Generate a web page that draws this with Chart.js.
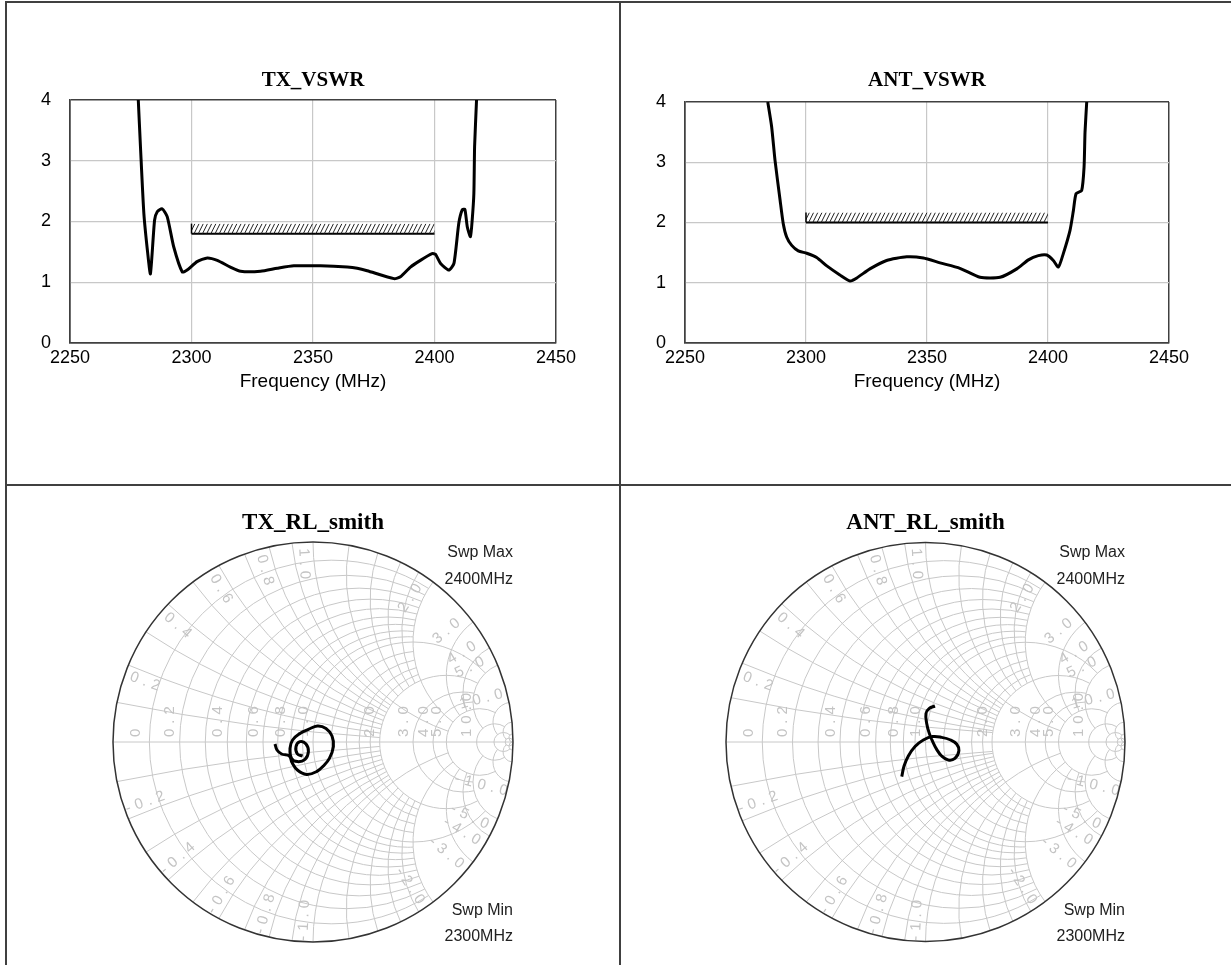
<!DOCTYPE html>
<html>
<head>
<meta charset="utf-8">
<title>VSWR and Smith charts</title>
<script src="https://cdn.jsdelivr.net/npm/chart.js@4.4.1/dist/chart.umd.min.js"></script>
<style>
  html, body { margin: 0; padding: 0; background: #fff; }
  body { width: 1231px; height: 965px; position: relative; overflow: hidden; }
  .pane { position: absolute; }
  .rule { position: absolute; background: #404040; }
</style>
</head>
<body>
<div class="rule" style="left:5px;top:1px;width:1226px;height:2px"></div>
<div class="rule" style="left:5px;top:1px;width:2px;height:964px"></div>
<div class="rule" style="left:619px;top:1px;width:2px;height:964px"></div>
<div class="rule" style="left:5px;top:484px;width:1226px;height:2px"></div>

<div class="pane" style="left:0;top:0;width:620px;height:485px"><canvas id="txVswr"></canvas></div>
<div class="pane" style="left:620px;top:0;width:611px;height:485px"><canvas id="antVswr"></canvas></div>
<div class="pane" style="left:0;top:485px;width:620px;height:480px"><canvas id="txSmith"></canvas></div>
<div class="pane" style="left:620px;top:485px;width:611px;height:480px"><canvas id="antSmith"></canvas></div>

<script>
// ---- data ----
var txFreq = [2278.1, 2279.0, 2280.4, 2282.0, 2283.1, 2284.8, 2285.9, 2287.9, 2290.0, 2292.7,
              2296.2, 2298.2, 2302.3, 2306.5, 2310.6, 2316.0, 2320.2, 2328.4, 2335.3, 2342.1,
              2353.1, 2364.1, 2368.2, 2372.3, 2383.3, 2386.0, 2390.1, 2394.2, 2399.0, 2400.4,
              2402.5, 2405.9, 2408.0, 2410.0, 2411.4, 2412.5, 2413.5, 2414.8, 2415.5, 2416.2,
              2416.5, 2417.3];
var txVswr = [4.0, 3.23, 2.13, 1.47, 1.14, 2.02, 2.16, 2.21, 2.08, 1.58,
              1.17, 1.20, 1.34, 1.40, 1.36, 1.25, 1.18, 1.18, 1.23, 1.27,
              1.27, 1.25, 1.23, 1.19, 1.06, 1.09, 1.25, 1.36, 1.47, 1.46,
              1.31, 1.20, 1.31, 1.97, 2.19, 2.20, 1.91, 1.75, 2.02, 2.46,
              3.23, 4.0];

var antFreq = [2284.2, 2285.8, 2287.2, 2289.3, 2290.6, 2292.0, 2294.1, 2296.8, 2300.3, 2304.4,
               2308.6, 2314.0, 2318.2, 2321.0, 2326.4, 2333.3, 2341.6, 2348.5, 2355.4, 2363.6,
               2371.9, 2380.2, 2387.1, 2391.9, 2396.0, 2399.5, 2402.2, 2404.3, 2406.3, 2409.1,
               2410.5, 2411.6, 2413.9, 2414.9, 2415.3, 2416.0];
var antVswr = [4.0, 3.59, 3.03, 2.37, 1.98, 1.76, 1.62, 1.53, 1.49, 1.42,
               1.28, 1.13, 1.03, 1.08, 1.23, 1.37, 1.43, 1.41, 1.33, 1.24,
               1.09, 1.09, 1.23, 1.38, 1.45, 1.46, 1.37, 1.26, 1.48, 1.87,
               2.20, 2.48, 2.53, 2.92, 3.50, 4.0];

var limitFreq = [2300, 2400];
var txLimit = [1.8, 1.8];
var antLimit = [2.0, 2.0];

// reflection coefficient traces (real, imaginary)
var txGammaRe = [-0.19, -0.18, -0.157, -0.118, -0.105, -0.078, -0.032, 0.018, 0.052, 0.082,
                 0.102, 0.095, 0.065, 0.022, -0.023, -0.065, -0.102, -0.115, -0.107, -0.078,
                 -0.04, -0.023, -0.035, -0.065, -0.085, -0.078, -0.052];
var txGammaIm = [-0.01, -0.04, -0.06, -0.07, -0.103, -0.14, -0.162, -0.148, -0.12, -0.082,
                 -0.023, 0.03, 0.068, 0.08, 0.063, 0.043, 0.01, -0.032, -0.082, -0.098,
                 -0.087, -0.048, -0.01, 0.002, -0.023, -0.06, -0.07];
var antGammaRe = [0.0475, 0.019, 0.0025, 0.006, 0.019, 0.036, 0.056, 0.081, 0.114, 0.1475,
                  0.1675, 0.156, 0.126, 0.081, 0.036, -0.011, -0.0525, -0.086, -0.1075, -0.119];
var antGammaIm = [0.18, 0.168, 0.143, 0.093, 0.043, 0.002, -0.037, -0.07, -0.09, -0.082,
                  -0.043, -0.01, 0.01, 0.023, 0.027, 0.01, -0.023, -0.07, -0.12, -0.173];

// smith grid: circle values and how far each is drawn
var smithR      = [0.1, 0.2, 0.3, 0.4, 0.5, 0.6, 0.7, 0.8, 0.9, 1.0, 1.2, 1.4, 1.6, 1.8, 2.0, 3.0, 4.0, 5.0, 10, 20, 50];
var smithRLimit = [2, 2, 2, 2, 2, 2, 2, 2, 2, 5, 2, 2, 2, 2, 5, 5, 5, 10, 20, 50, Infinity];
var smithX      = [0.1, 0.2, 0.3, 0.4, 0.5, 0.6, 0.7, 0.8, 0.9, 1.0, 1.2, 1.4, 1.6, 1.8, 2.0, 3.0, 4.0, 5.0, 10, 20, 50];
var smithXLimit = [2, 2, 2, 2, 2, 2, 2, 2, 2, 5, 2, 2, 2, 2, 5, 5, 5, 10, 20, 50, Infinity];
var smithAxisLabels = ['0', '0.2', '0.4', '0.6', '0.8', '1.0', '2.0', '3.0', '4.0', '5.0', '10.0'];
var smithEdgeLabels = ['0.2', '0.4', '0.6', '0.8', '1.0', '2.0', '3.0', '4.0', '5.0', '10.0'];
var sweepText = ['Swp Max', '2400MHz', 'Swp Min', '2300MHz'];

function points(xs, ys) {
    return xs.map(function (x, i) { return { x: x, y: ys[i] }; });
}

// hatched band above a limit line
var hatchPlugin = {
    id: 'hatch',
    afterDatasetsDraw: function (chart) {
        var ctx = chart.ctx;
        chart.data.datasets.forEach(function (ds, i) {
            if (!ds.hatch) return;
            var pts = chart.getDatasetMeta(i).data;
            var x0 = pts[0].x, x1 = pts[pts.length - 1].x, y = pts[0].y, h = 10;
            ctx.save();
            ctx.beginPath();
            ctx.rect(x0, y - h, x1 - x0, h);
            ctx.clip();
            ctx.strokeStyle = '#222';
            ctx.lineWidth = 1;
            ctx.beginPath();
            for (var x = x0 - h; x < x1 + h; x += 4.2) {
                ctx.moveTo(x, y);
                ctx.lineTo(x + 5, y - h);
            }
            ctx.stroke();
            ctx.restore();
            ctx.save();
            ctx.strokeStyle = '#000';
            ctx.lineWidth = 1.5;
            ctx.beginPath();
            ctx.moveTo(x0, y);
            ctx.lineTo(x0, y - h);
            ctx.stroke();
            ctx.restore();
        });
    }
};

function makeVswr(id, title, freq, vswr, limit, yWidth, padRight, titlePad) {
    var edge = function (v, lo, hi) { return v === lo || v === hi; };
    var plain = function (v) { return String(v); };
    return new Chart(document.getElementById(id), {
        type: 'scatter',
        data: {
            datasets: [
                {
                    label: title,
                    data: points(freq, vswr),
                    showLine: true,
                    borderColor: '#000',
                    borderWidth: 3,
                    pointRadius: 0,
                    tension: 0.2
                },
                {
                    label: 'Limit',
                    data: points(limitFreq, limit),
                    showLine: true,
                    borderColor: '#000',
                    borderWidth: 2,
                    pointRadius: 0,
                    hatch: true
                }
            ]
        },
        options: {
            responsive: true,
            maintainAspectRatio: false,
            animation: false,
            layout: { padding: { left: 0, right: padRight, top: 0, bottom: 90 } },
            plugins: {
                legend: { display: false },
                tooltip: { enabled: false },
                title: {
                    display: true,
                    text: title,
                    fullSize: false,
                    color: '#000',
                    font: { family: "'Liberation Serif', serif", size: 21, weight: 'bold' },
                    padding: titlePad
                }
            },
            scales: {
                x: {
                    type: 'linear',
                    min: 2250,
                    max: 2450,
                    ticks: { stepSize: 50, padding: 4, color: '#000', callback: plain, font: { family: "'Liberation Sans', sans-serif", size: 18 } },
                    grid: {
                        drawTicks: false,
                        color: function (c) { return edge(c.tick && c.tick.value, 2250, 2450) ? '#404040' : '#c8c8c8'; },
                        lineWidth: function (c) { return edge(c.tick && c.tick.value, 2250, 2450) ? 1.5 : 1.2; }
                    },
                    border: { display: true, color: '#404040', width: 1.5 },
                    title: {
                        display: true,
                        text: 'Frequency (MHz)',
                        color: '#000',
                        font: { family: "'Liberation Sans', sans-serif", size: 19 },
                        padding: { top: 0, bottom: 1.6 }
                    },
                    afterFit: function (s) { s.height = 52; }
                },
                y: {
                    min: 0,
                    max: 4,
                    ticks: { stepSize: 1, padding: 19, color: '#000', callback: plain, font: { family: "'Liberation Sans', sans-serif", size: 18 } },
                    grid: {
                        drawTicks: false,
                        color: function (c) { return edge(c.tick && c.tick.value, 0, 4) ? '#404040' : '#c8c8c8'; },
                        lineWidth: function (c) { return edge(c.tick && c.tick.value, 0, 4) ? 1.5 : 1.2; }
                    },
                    border: { display: true, color: '#404040', width: 1.5 },
                    afterFit: function (s) { s.width = yWidth; }
                }
            }
        },
        plugins: [hatchPlugin]
    });
}

// z = r + jx  ->  gamma = (z - 1) / (z + 1)
function gamma(r, x) {
    var a = r - 1, c = r + 1, den = c * c + x * x;
    return [(a * c + x * x) / den, (x * c - a * x) / den];
}

function arcThrough(ctx, sx, sy, k, c, rho, p, q) {
    var cx = sx(c[0]), cy = sy(c[1]);
    var a0 = Math.atan2(sy(p[1]) - cy, sx(p[0]) - cx);
    var a1 = Math.atan2(sy(q[1]) - cy, sx(q[0]) - cx);
    var d = a1 - a0;
    while (d > Math.PI) d -= 2 * Math.PI;
    while (d < -Math.PI) d += 2 * Math.PI;
    ctx.beginPath();
    ctx.arc(cx, cy, rho * k, a0, a0 + d, d < 0);
    ctx.stroke();
}

var smithPlugin = {
    id: 'smithGrid',
    beforeDatasetsDraw: function (chart) {
        var ctx = chart.ctx, xs = chart.scales.x, ys = chart.scales.y;
        var sx = function (v) { return xs.getPixelForValue(v); };
        var sy = function (v) { return ys.getPixelForValue(v); };
        var k = sx(1) - sx(0);
        ctx.save();
        ctx.beginPath();
        ctx.arc(sx(0), sy(0), k, 0, 2 * Math.PI);
        ctx.clip();
        ctx.strokeStyle = '#c8c8c8';
        ctx.lineWidth = 1;
        smithR.forEach(function (r, i) {
            var lim = Math.min(smithRLimit[i], 1e6);
            var c = [r / (1 + r), 0], rho = 1 / (1 + r);
            arcThrough(ctx, sx, sy, k, c, rho, gamma(r, 0), gamma(r, lim));
            arcThrough(ctx, sx, sy, k, c, rho, gamma(r, 0), gamma(r, -lim));
        });
        smithX.forEach(function (x, i) {
            var lim = Math.min(smithXLimit[i], 1e6);
            [x, -x].forEach(function (v) {
                arcThrough(ctx, sx, sy, k, [1, 1 / v], 1 / x, gamma(0, v), gamma(lim, v));
            });
        });
        ctx.beginPath();
        ctx.moveTo(sx(-1), sy(0));
        ctx.lineTo(sx(1), sy(0));
        ctx.stroke();

        // grid labels
        ctx.fillStyle = '#c4c4c4';
        ctx.font = '15px "Liberation Sans", sans-serif';
        ctx.letterSpacing = '5px';
        smithAxisLabels.forEach(function (t) {
            var g = gamma(parseFloat(t), 0);
            var px = Math.max(sx(g[0]) - 2, sx(-1) + 30);
            ctx.save();
            ctx.translate(px, sy(0) - 5);
            ctx.rotate(-Math.PI / 2);
            ctx.textAlign = 'left';
            ctx.textBaseline = 'bottom';
            ctx.fillText(t, 0, 0);
            ctx.restore();
        });
        smithEdgeLabels.forEach(function (t) {
            var v = parseFloat(t);
            var th = Math.PI - 2 * Math.atan(v);
            [1, -1].forEach(function (s) {
                var a = s * (th + 0.05);
                var px = sx(0.88 * Math.cos(a)), py = sy(0.88 * Math.sin(a));
                var rot = -a;
                if (Math.cos(a) < 0) rot += Math.PI;
                ctx.save();
                ctx.translate(px, py);
                ctx.rotate(rot);
                ctx.textAlign = 'center';
                ctx.textBaseline = 'middle';
                ctx.fillText(s < 0 ? '-' + t : t, 0, 0);
                ctx.restore();
            });
        });
        ctx.restore();

        ctx.save();
        ctx.strokeStyle = '#333';
        ctx.lineWidth = 1.5;
        ctx.beginPath();
        ctx.arc(sx(0), sy(0), k, 0, 2 * Math.PI);
        ctx.stroke();
        ctx.restore();
    },
    afterDraw: function (chart) {
        var ctx = chart.ctx, a = chart.chartArea;
        ctx.save();
        ctx.fillStyle = '#222';
        ctx.font = '16px "Liberation Sans", sans-serif';
        ctx.textAlign = 'right';
        ctx.textBaseline = 'middle';
        ctx.fillText(sweepText[0], a.right, a.top + 11);
        ctx.fillText(sweepText[1], a.right, a.top + 38);
        ctx.fillText(sweepText[2], a.right, a.bottom - 31);
        ctx.fillText(sweepText[3], a.right, a.bottom - 5);
        ctx.restore();
    }
};

function makeSmith(id, title, re, im, pad) {
    return new Chart(document.getElementById(id), {
        type: 'scatter',
        data: {
            datasets: [{
                label: title,
                data: points(re, im),
                showLine: true,
                borderColor: '#000',
                borderWidth: 3,
                pointRadius: 0,
                tension: 0.4
            }]
        },
        options: {
            responsive: true,
            maintainAspectRatio: false,
            animation: false,
            layout: { padding: pad },
            plugins: {
                legend: { display: false },
                tooltip: { enabled: false },
                title: {
                    display: true,
                    text: title,
                    fullSize: false,
                    color: '#000',
                    font: { family: "'Liberation Serif', serif", size: 23, weight: 'bold' },
                    padding: { top: 24.2, bottom: 5.2 }
                }
            },
            scales: {
                x: { min: -1, max: 1, display: false },
                y: { min: -1, max: 1, display: false }
            }
        },
        plugins: [smithPlugin]
    });
}

window.addEventListener('load', function () {
    makeVswr('txVswr', 'TX_VSWR', txFreq, txVswr, txLimit, 70, 64, { top: 68.4, bottom: 6.4 });
    makeVswr('antVswr', 'ANT_VSWR', antFreq, antVswr, antLimit, 65, 62, { top: 68.4, bottom: 8.4 });
    makeSmith('txSmith', 'TX_RL_smith', txGammaRe, txGammaIm, { left: 113, right: 107, top: 0, bottom: 23 });
    makeSmith('antSmith', 'ANT_RL_smith', antGammaRe, antGammaIm, { left: 106, right: 106, top: 0, bottom: 23 });
});
</script>
</body>
</html>
